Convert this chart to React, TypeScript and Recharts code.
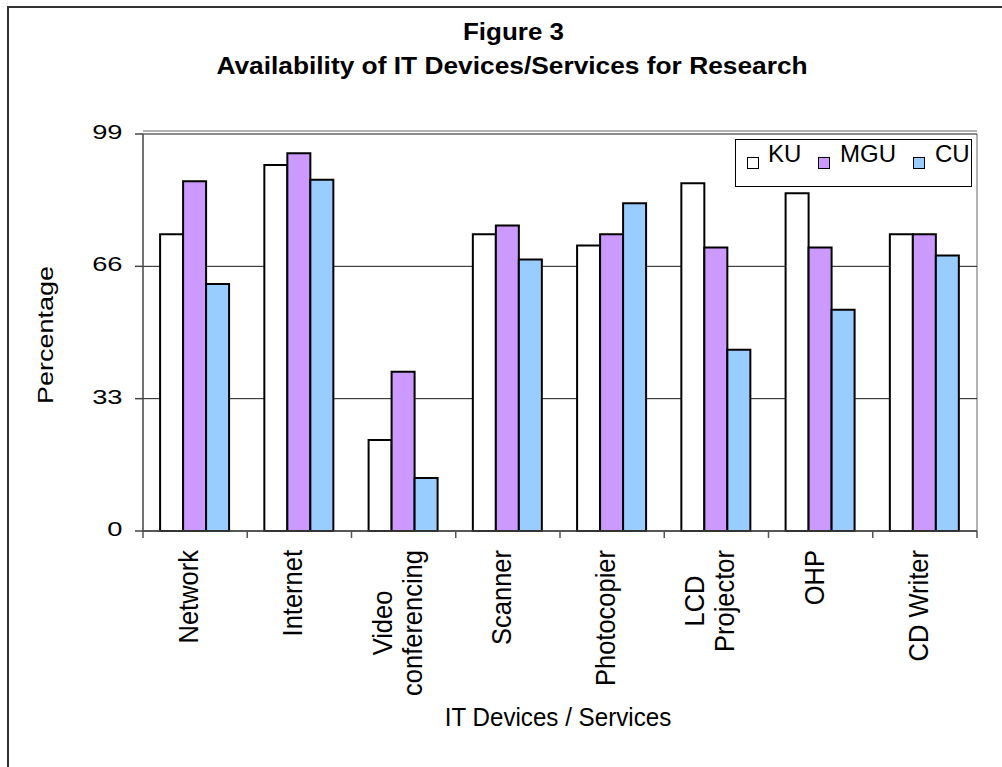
import React from 'react';
import { BarChart, Bar, XAxis, YAxis, CartesianGrid, Legend } from 'recharts';

// Survey results: share of respondents (%) reporting each IT device/service as available
const CATEGORIES = ['Network', 'Internet', 'Video conferencing', 'Scanner', 'Photocopier', 'LCD Projector', 'OHP', 'CD Writer'];
const CATEGORY_LINES = [['Network'], ['Internet'], ['Video', 'conferencing'], ['Scanner'], ['Photocopier'], ['LCD', 'Projector'], ['OHP'], ['CD Writer']];
const KU = [74, 91.3, 22.7, 74, 71.2, 86.7, 84.2, 74];
const MGU = [87.2, 94.2, 39.7, 76.2, 74, 70.7, 70.7, 74];
const CU = [61.6, 87.6, 13.2, 67.7, 81.7, 45.2, 55.2, 68.7];
const Y_TICKS = [0, 33, 66, 99];

const SERIES = [
  { key: 'KU', values: KU, fill: '#FFFFFF' },
  { key: 'MGU', values: MGU, fill: '#CC99FF' },
  { key: 'CU', values: CU, fill: '#99CCFF' },
];

const data = CATEGORIES.map((name, i) => {
  const row: Record<string, string | number> = { name, idx: i };
  SERIES.forEach((s) => { row[s.key] = s.values[i]; });
  return row;
});

// index axis: labels at each category index, tick marks halfway between categories
const X_TICKS = CATEGORIES.flatMap((_, i) => [i - 0.5, i]).concat(CATEGORIES.length - 0.5);

const FONT = '"Liberation Sans", Arial, Helvetica, sans-serif';
const W = 1002;
const H = 767;

let measureCtx: CanvasRenderingContext2D | null = null;
function textWidth(s: string, size: number) {
  if (!measureCtx) measureCtx = document.createElement('canvas').getContext('2d');
  if (!measureCtx) return s.length * size * 0.55;
  measureCtx.font = `${size}px "Liberation Sans", Arial, sans-serif`;
  return measureCtx.measureText(s).width;
}

type STProps = {
  x: number; y: number; sx?: number; rotate?: number; anchor?: 'start' | 'middle' | 'end';
  size: number; weight?: string | number; dy?: number; children: React.ReactNode;
};
function StretchText({ x, y, sx = 1, rotate = 0, anchor = 'middle', size, weight = 'normal', dy = 0, children }: STProps) {
  return (
    <text
      transform={`translate(${x} ${y}) scale(${sx} 1)${rotate ? ` rotate(${rotate})` : ''}`}
      x={0}
      y={dy}
      textAnchor={anchor}
      fontSize={size}
      fontWeight={weight}
      fontFamily={FONT}
      fill="#000"
    >
      {children}
    </text>
  );
}

const X_LABEL_SIZE = 25.5;
const X_LABEL_SX = 1.08;

const XTick = (props: any) => {
  const { x, y, payload } = props;
  const v = Number(payload.value);
  if (!Number.isInteger(v)) {
    return <line x1={x} y1={y} x2={x} y2={y + 7} stroke="#555" strokeWidth={1.5} />;
  }
  const lines = CATEGORY_LINES[v];
  if (!lines) return null;
  const maxLen = Math.max(...lines.map((l) => textWidth(l, X_LABEL_SIZE)));
  const n = lines.length;
  return (
    <g transform={`translate(${x} ${y + 19}) scale(${X_LABEL_SX} 1) rotate(-90)`}>
      {lines.map((l, i) => (
        <text
          key={i}
          x={-maxLen / 2}
          y={(3 + (i - (n - 1) / 2) * 30) / X_LABEL_SX}
          textAnchor="middle"
          fontSize={X_LABEL_SIZE}
          fontFamily={FONT}
          fill="#000"
        >
          {l}
        </text>
      ))}
    </g>
  );
};

const YTick = (props: any) => {
  const { x, y, payload } = props;
  return (
    <StretchText x={x} y={y} dy={5} anchor="end" sx={1.3} size={21}>
      {payload.value}
    </StretchText>
  );
};

const LEGEND_MARK_X = [12, 83, 178];
const LEGEND_TEXT_X = [33, 105, 200];

// legend keeps the series order (KU, MGU, CU)
const LegendBox = () => (
  <div
    style={{
      position: 'relative',
      width: 237,
      height: 48,
      border: '1px solid #000',
      boxSizing: 'border-box',
      background: '#fff',
      fontFamily: FONT,
    }}
  >
    {SERIES.map((s, i) => (
      <React.Fragment key={s.key}>
        <div
          style={{
            position: 'absolute',
            left: LEGEND_MARK_X[i] - 1,
            top: 17,
            width: 10,
            height: 10,
            border: '1.5px solid #000',
            background: s.fill,
          }}
        />
        <div
          style={{
            position: 'absolute',
            left: LEGEND_TEXT_X[i] - 1,
            top: 2,
            fontSize: 24,
            lineHeight: '24px',
            color: '#000',
            whiteSpace: 'nowrap',
          }}
        >
          {s.key}
        </div>
      </React.Fragment>
    ))}
  </div>
);

export default function App() {
  return (
    <div style={{ position: 'absolute', left: 0, top: 0, width: W, height: H, background: '#fff' }}>
      <BarChart
        width={W}
        height={H}
        data={data}
        margin={{ top: 134, right: 25, left: 83, bottom: 206 }}
        barGap={0}
        barCategoryGap="16.4%"
      >
        {/* plot-area border (gray) */}
        <CartesianGrid
          stroke="#999"
          strokeWidth={1.5}
          horizontalCoordinatesGenerator={({ offset }: any) => [offset.top - 3]}
          verticalCoordinatesGenerator={({ offset }: any) => [offset.left + offset.width]}
        />
        <CartesianGrid vertical={false} stroke="#1a1a1a" strokeWidth={1} />
        <XAxis xAxisId="cat" dataKey="name" type="category" hide />
        <XAxis
          dataKey="idx"
          type="number"
          domain={[-0.5, CATEGORIES.length - 0.5]}
          allowDataOverflow
          ticks={X_TICKS}
          interval={0}
          height={30}
          tickSize={0}
          tickMargin={0}
          tickLine={false}
          axisLine={{ stroke: '#444', strokeWidth: 1.5 }}
          tick={<XTick />}
        />
        <YAxis
          domain={[0, 99]}
          ticks={Y_TICKS}
          interval={0}
          width={60}
          tickSize={8}
          tickMargin={12.5}
          tickLine={{ stroke: '#444', strokeWidth: 1.5 }}
          axisLine={{ stroke: '#444', strokeWidth: 1.5 }}
          tick={<YTick />}
        />
        <Legend
          layout="vertical"
          align="center"
          verticalAlign="middle"
          content={<LegendBox />}
          wrapperStyle={{ position: 'absolute', left: 735, top: 139, width: 237, height: 48 }}
        />
        {SERIES.map((s) => (
          <Bar
            key={s.key}
            xAxisId="cat"
            dataKey={s.key}
            name={s.key}
            fill={s.fill}
            stroke="#000"
            strokeWidth={2}
            isAnimationActive={false}
          />
        ))}
      </BarChart>
      {/* outer chart frame, titles and axis titles */}
      <svg
        width={W}
        height={H}
        style={{ position: 'absolute', left: 0, top: 0, pointerEvents: 'none' }}
      >
        <path d={`M8 ${H} V7 H${W}`} fill="none" stroke="#333" strokeWidth={2} />
        <StretchText x={513.5} y={39.5} sx={1.13} size={23} weight="bold">Figure 3</StretchText>
        <StretchText x={512} y={74} sx={1.12} size={23.5} weight="bold">
          Availability of IT Devices/Services for Research
        </StretchText>
        <StretchText x={53} y={335} sx={0.8} rotate={-90} size={27}>Percentage</StretchText>
        <StretchText x={558} y={726} sx={0.93} size={26}>IT Devices / Services</StretchText>
      </svg>
    </div>
  );
}
